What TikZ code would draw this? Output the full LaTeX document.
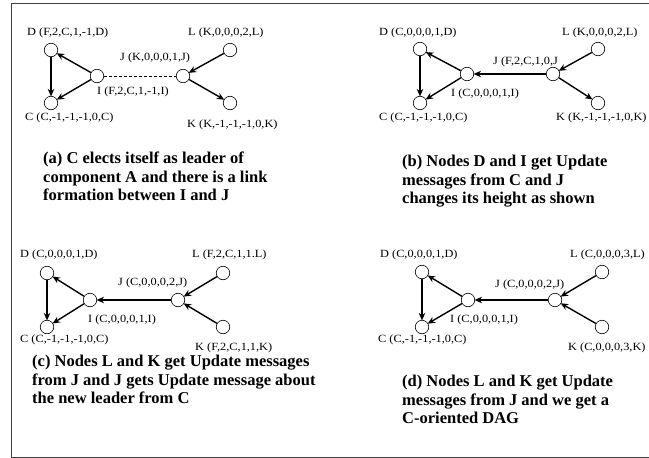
\documentclass[tikz,border=0pt]{standalone}
\usepackage{fontspec}
\setmainfont{Liberation Serif}
\newfontfamily\lblfont[FakeStretch=1.12]{Liberation Serif}
\usetikzlibrary{arrows.meta}
\begin{document}
\begin{tikzpicture}[x=1pt,y=-1pt,
  vtx/.style={circle,draw,line width=0.6pt,fill=white,minimum size=13.5pt,inner sep=0pt},
  lbl/.style={anchor=west,inner sep=0pt,font=\lblfont\fontsize{11}{13}\selectfont},
  captxt/.style={anchor=north west,inner sep=0pt,align=left,font=\fontsize{16.5}{18.5}\selectfont\bfseries},
  arr/.style={line width=1.4pt,-{Stealth[length=7.5pt,width=6.5pt]},shorten >=-0.5pt},
  lnk/.style={line width=0.6pt,dashed,dash pattern=on 3pt off 2pt}]
\useasboundingbox (0,0) rectangle (649,458);
\draw[line width=1pt,black!75] (649,3) -- (11,3) -- (11,457) -- (649,457);

% ---------- panel (a)
\node[vtx] (aD) at (51,50) {};
\node[vtx] (aC) at (51,103) {};
\node[vtx] (aI) at (97,76) {};
\node[vtx] (aJ) at (183,76) {};
\node[vtx] (aL) at (230,50) {};
\node[vtx] (aK) at (230,103) {};
\node[lbl] (aDl) at (27,33) {D (F,2,C,1,-1,D)};
\node[lbl] (aLl) at (188,33) {L (K,0,0,0,2,L)};
\node[lbl] (aJl) at (120,58) {J (K,0,0,0,1,J)};
\node[lbl] (aIl) at (97,92) {I (F,2,C,1,-1,I)};
\node[lbl] (aCl) at (25,118) {C (C,-1,-1,-1,0,C)};
\node[lbl] (aKl) at (187,125) {K (K,-1,-1,-1,0,K)};
\draw[arr] (aI) -- (aD);
\draw[arr] (aD) -- (aC);
\draw[arr] (aI) -- (aC);
\draw[lnk] (aI) -- (aJ);
\draw[arr] (aL) -- (aJ);
\draw[arr] (aJ) -- (aK);
\node[captxt] (acap) at (43,152) {(a) C elects itself as leader of\\component A and there is a link\\formation between I and J};

% ---------- panel (b)
\node[vtx] (bD) at (420,49) {};
\node[vtx] (bC) at (420,103) {};
\node[vtx] (bI) at (467,74) {};
\node[vtx] (bJ) at (553,74) {};
\node[vtx] (bL) at (598,49) {};
\node[vtx] (bK) at (598,103) {};
\node[lbl] (bDl) at (379,33) {D (C,0,0,0,1,D)};
\node[lbl] (bLl) at (562,33) {L (K,0,0,0,2,L)};
\node[lbl] (bJl) at (493,62) {J (F,2,C,1,0,J};
\node[lbl] (bIl) at (451,94) {I (C,0,0,0,1,I)};
\node[lbl] (bCl) at (379,118) {C (C,-1,-1,-1,0,C)};
\node[lbl] (bKl) at (556,118) {K (K,-1,-1,-1,0,K)};
\draw[arr] (bI) -- (bD);
\draw[arr] (bD) -- (bC);
\draw[arr] (bI) -- (bC);
\draw[arr] (bJ) -- (bI);
\draw[arr] (bL) -- (bJ);
\draw[arr] (bJ) -- (bK);
\node[captxt] (bcap) at (402,155) {(b) Nodes D and I get Update\\messages from C and J\\changes its height as shown};

% ---------- panel (c)
\node[vtx] (cD) at (47,273) {};
\node[vtx] (cC) at (47,327) {};
\node[vtx] (cI) at (90,300) {};
\node[vtx] (cJ) at (178,300) {};
\node[vtx] (cL) at (223,273) {};
\node[vtx] (cK) at (223,327) {};
\node[lbl] (cDl) at (20,255) {D (C,0,0,0,1,D)};
\node[lbl] (cLl) at (192,255) {L (F,2,C,1,1.L)};
\node[lbl] (cJl) at (118,283) {J (C,0,0,0,2,J)};
\node[lbl] (cIl) at (88,320) {I (C,0,0,0,1,I)};
\node[lbl] (cCl) at (20,340) {C (C,-1,-1,-1,0,C)};
\node[lbl] (cKl) at (195,348) {K (F,2,C,1,1,K)};
\draw[arr] (cI) -- (cD);
\draw[arr] (cD) -- (cC);
\draw[arr] (cI) -- (cC);
\draw[arr] (cJ) -- (cI);
\draw[arr] (cL) -- (cJ);
\draw[arr] (cK) -- (cJ);
\node[captxt] (ccap) at (32,355) {(c) Nodes L and K get Update messages\\from J and J gets Update message about\\the new leader from C};

% ---------- panel (d)
\node[vtx] (dD) at (422,272) {};
\node[vtx] (dC) at (422,327) {};
\node[vtx] (dI) at (468,300) {};
\node[vtx] (dJ) at (555,300) {};
\node[vtx] (dL) at (602,272) {};
\node[vtx] (dK) at (602,327) {};
\node[lbl] (dDl) at (380,255) {D (C,0,0,0,1,D)};
\node[lbl] (dLl) at (570,255) {L (C,0,0,0,3,L)};
\node[lbl] (dJl) at (495,285) {J (C,0,0,0,2,J)};
\node[lbl] (dIl) at (450,320) {I (C,0,0,0,1,I)};
\node[lbl] (dCl) at (378,340) {C (C,-1,-1,-1,0,C)};
\node[lbl] (dKl) at (568,348) {K (C,0,0,0,3,K)};
\draw[arr] (dI) -- (dD);
\draw[arr] (dD) -- (dC);
\draw[arr] (dI) -- (dC);
\draw[arr] (dJ) -- (dI);
\draw[arr] (dL) -- (dJ);
\draw[arr] (dK) -- (dJ);
\node[captxt] (dcap) at (402,375) {(d) Nodes L and K get Update\\messages from J and we get a\\C-oriented DAG};
\end{tikzpicture}
\end{document}
